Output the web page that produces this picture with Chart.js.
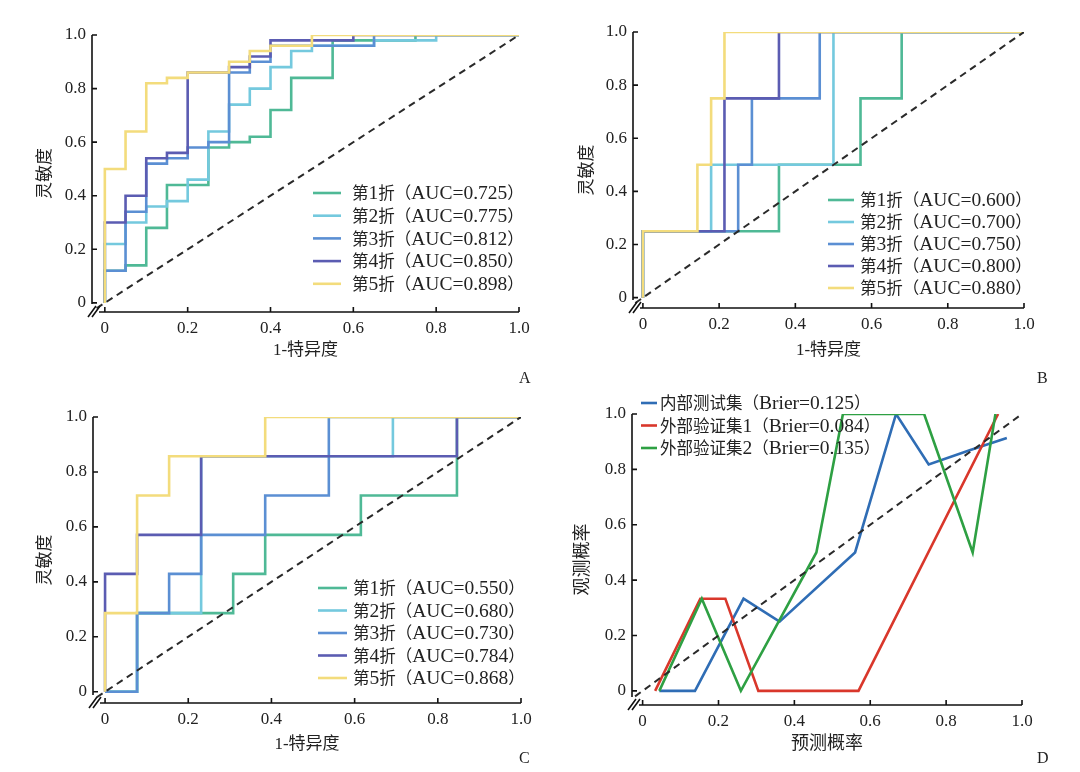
<!DOCTYPE html>
<html>
<head>
<meta charset="utf-8">
<script src="https://cdn.jsdelivr.net/npm/chart.js@4.4.1/dist/chart.umd.min.js"></script>
<style>
  body { margin: 0; background: #fff; }
  #page { position: relative; width: 1080px; height: 772px; overflow: hidden; background: #fff; }
  .panel { position: absolute; }
  .tag { position: absolute; font: 16px "Liberation Serif", serif; color: #222; }
</style>
</head>
<body>
<div id="page">
  <div class="panel" style="left:0;top:0;width:540px;height:390px"><canvas id="rocA"></canvas></div>
  <div class="panel" style="left:540px;top:0;width:540px;height:390px"><canvas id="rocB"></canvas></div>
  <div class="panel" style="left:0;top:390px;width:540px;height:382px"><canvas id="rocC"></canvas></div>
  <div class="panel" style="left:540px;top:390px;width:540px;height:382px"><canvas id="calD"></canvas></div>
  <div class="tag" style="left:519px;top:369px">A</div>
  <div class="tag" style="left:1037px;top:369px">B</div>
  <div class="tag" style="left:519px;top:749px">C</div>
  <div class="tag" style="left:1037px;top:749px">D</div>
</div>
<script>
const tickVals = [0, 0.2, 0.4, 0.6, 0.8, 1.0];
const foldNames = ["第1折", "第2折", "第3折", "第4折", "第5折"];

// A
const aucA = ["0.725", "0.775", "0.812", "0.850", "0.898"];
const fprA = [
  [0, 0, 0.05, 0.10, 0.15, 0.25, 0.30, 0.35, 0.40, 0.45, 0.55, 0.75, 1],
  [0, 0, 0.05, 0.10, 0.15, 0.20, 0.25, 0.30, 0.35, 0.40, 0.45, 0.50, 0.65, 0.80, 1],
  [0, 0, 0.05, 0.10, 0.15, 0.20, 0.25, 0.30, 0.35, 0.40, 0.65, 1],
  [0, 0, 0.05, 0.10, 0.15, 0.20, 0.30, 0.35, 0.40, 0.60, 1],
  [0, 0, 0.05, 0.10, 0.15, 0.20, 0.30, 0.35, 0.40, 0.50, 1],
];
const tprA = [
  [0, 0.12, 0.14, 0.28, 0.44, 0.58, 0.60, 0.62, 0.72, 0.84, 0.98, 1, 1],
  [0, 0.22, 0.30, 0.36, 0.38, 0.46, 0.64, 0.74, 0.80, 0.88, 0.94, 0.96, 0.98, 1, 1],
  [0, 0.12, 0.34, 0.52, 0.54, 0.58, 0.60, 0.86, 0.90, 0.96, 1, 1],
  [0, 0.30, 0.40, 0.54, 0.56, 0.86, 0.88, 0.92, 0.98, 1, 1],
  [0, 0.50, 0.64, 0.82, 0.84, 0.86, 0.90, 0.94, 0.96, 1, 1],
];

// B
const aucB = ["0.600", "0.700", "0.750", "0.800", "0.880"];
const fprB = [
  [0, 0, 0.357, 0.571, 0.679, 1],
  [0, 0, 0.179, 0.5, 1],
  [0, 0, 0.25, 0.286, 0.464, 1],
  [0, 0, 0.214, 0.357, 1],
  [0, 0, 0.143, 0.179, 0.214, 1],
];
const tprB = [
  [0, 0.25, 0.5, 0.75, 1, 1],
  [0, 0.25, 0.5, 1, 1],
  [0, 0.25, 0.5, 0.75, 1, 1],
  [0, 0.25, 0.75, 1, 1],
  [0, 0.25, 0.5, 0.75, 1, 1],
];

// C
const aucC = ["0.550", "0.680", "0.730", "0.784", "0.868"];
const fprC = [
  [0, 0.077, 0.308, 0.385, 0.615, 0.846, 0.846, 1],
  [0, 0.077, 0.231, 0.692, 1],
  [0, 0.077, 0.154, 0.231, 0.385, 0.538, 1],
  [0, 0, 0.077, 0.231, 0.846, 1],
  [0, 0, 0.077, 0.154, 0.385, 1],
];
const tprC = [
  [0, 0.286, 0.429, 0.571, 0.714, 0.857, 1, 1],
  [0, 0.286, 0.857, 1, 1],
  [0, 0.286, 0.429, 0.571, 0.714, 1, 1],
  [0, 0.429, 0.571, 0.857, 1, 1],
  [0, 0.286, 0.714, 0.857, 1, 1],
];

// D
const calNames = ["内部测试集", "外部验证集1", "外部验证集2"];
const brier = ["0.125", "0.084", "0.135"];
const predInt = [0.044, 0.138, 0.266, 0.361, 0.56, 0.668, 0.754, 0.864, 0.96];
const obsInt = [0, 0, 0.333, 0.25, 0.5, 1.0, 0.818, 0.87, 0.913];
const predExt1 = [0.033, 0.152, 0.218, 0.305, 0.569, 0.937];
const obsExt1 = [0, 0.333, 0.333, 0, 0, 1.0];
const predExt2 = [0.044, 0.156, 0.259, 0.458, 0.528, 0.742, 0.87, 0.93];
const obsExt2 = [0, 0.333, 0, 0.5, 1.0, 1.0, 0.5, 1.0];

const foldColors = ["#4fb996", "#74c9de", "#5b8fd3", "#5b5cb2", "#f3dc7c"];
const calColors = ["#2f6db5", "#d9372b", "#2ea043"];

const serif = '"Liberation Serif", "Noto Sans CJK SC", serif';

function toPoints(xs, ys) {
  return xs.map((v, i) => ({ x: v, y: ys[i] }));
}

// CJK runs a bit smaller than the Latin ones, like the original figure
function drawMixed(ctx, text, x, y) {
  const runs = text.match(/[\u3000-\u9fff\uff00-\uffef]+|[^\u3000-\u9fff\uff00-\uffef]+/g) || [];
  runs.forEach((r) => {
    const cjk = /[\u3000-\u9fff\uff00-\uffef]/.test(r);
    ctx.font = cjk ? '16.5px "Noto Sans CJK SC"' : '19.5px "Liberation Serif"';
    ctx.fillText(r, x, cjk ? y : y + 1);
    x += ctx.measureText(r).width;
  });
}

// axis lines, inward ticks, "//" break and the inner legend
const axisStyle = {
  id: "axisStyle",
  afterDraw(chart, args, opts) {
    const { ctx, chartArea: a, scales } = chart;
    const x = scales.x, y = scales.y;
    ctx.save();
    ctx.strokeStyle = "#111";
    ctx.lineWidth = 1.6;
    ctx.beginPath();
    ctx.moveTo(a.left, a.top);
    ctx.lineTo(a.left, a.bottom - 8);
    ctx.moveTo(a.left + 7, a.bottom);
    ctx.lineTo(a.right, a.bottom);
    y.ticks.forEach((t) => {
      const p = y.getPixelForValue(t.value);
      ctx.moveTo(a.left, p);
      ctx.lineTo(a.left + 5, p);
    });
    x.ticks.forEach((t) => {
      const p = x.getPixelForValue(t.value);
      ctx.moveTo(p, a.bottom);
      ctx.lineTo(p, a.bottom - 5);
    });
    for (const d of [0, 4]) {
      ctx.moveTo(a.left - 4 + d, a.bottom + 5);
      ctx.lineTo(a.left + 4 + d, a.bottom - 6);
    }
    ctx.stroke();

    // legend
    const lg = opts.legend;
    ctx.textBaseline = "middle";
    ctx.fillStyle = "#222";
    let row = 0;
    chart.data.datasets.forEach((ds) => {
      if (!ds.label) return;
      const yy = lg.y + row * lg.gap;
      ctx.strokeStyle = ds.borderColor;
      ctx.lineWidth = 2.6;
      ctx.beginPath();
      ctx.moveTo(lg.x, yy);
      ctx.lineTo(lg.x + lg.len, yy);
      ctx.stroke();
      drawMixed(ctx, ds.label, lg.x + lg.len + lg.space, yy);
      row++;
    });
    ctx.restore();
  },
};

function diagonal() {
  return {
    data: [{ x: -0.02, y: -0.02 }, { x: 1, y: 1 }],
    borderColor: "#2a2a2a",
    borderWidth: 2,
    borderDash: [7, 5],
    pointRadius: 0,
    order: 0,
  };
}

function scaleOpts(min, title, size, titleSize) {
  return {
    type: "linear",
    min: min,
    max: 1,
    afterBuildTicks: (s) => { s.ticks = tickVals.map((v) => ({ value: v })); },
    afterFit: (s) => {
      if (s.isHorizontal()) s.height = size; else s.width = size;
    },
    grid: { display: false, drawTicks: false },
    border: { display: false },
    ticks: {
      padding: 6,
      color: "#222",
      font: { family: "Liberation Serif", size: 17 },
      callback: (v) => (v === 0 ? "0" : v.toFixed(1)),
    },
    title: {
      display: true,
      text: title,
      color: "#222",
      padding: { top: 4, bottom: 4 },
      font: { family: serif, size: titleSize },
    },
  };
}

function makeChart(id, datasets, lay, xTitle, yTitle) {
  return new Chart(document.getElementById(id), {
    type: "line",
    data: { datasets: datasets },
    options: {
      responsive: true,
      maintainAspectRatio: false,
      animation: false,
      events: [],
      layout: { padding: lay.pad },
      elements: { point: { radius: 0 }, line: { tension: 0 } },
      scales: {
        x: scaleOpts(lay.xMin, xTitle, lay.xH, lay.titleSize),
        y: scaleOpts(lay.yMin, yTitle, lay.yW, lay.titleSize),
      },
      plugins: {
        legend: { display: false },
        tooltip: { enabled: false },
        axisStyle: { legend: lay.legend },
      },
    },
    plugins: [axisStyle],
  });
}

function rocSets(fpr, tpr, auc) {
  const sets = fpr.map((xs, i) => ({
    label: foldNames[i] + "（AUC=" + auc[i] + "）",
    data: toPoints(xs, tpr[i]),
    borderColor: foldColors[i],
    borderWidth: 2.6,
    stepped: "before",
    pointRadius: 0,
    order: 5 - i,
  }));
  sets.push(diagonal());
  return sets;
}

makeChart("rocA", rocSets(fprA, tprA, aucA), {
  pad: { left: 31, right: 21, top: 35, bottom: 25 },
  yW: 61, xH: 53, xMin: -0.031, yMin: -0.034, titleSize: 17,
  legend: { x: 313, y: 193, gap: 22.7, len: 28, space: 11 },
}, "1-特异度", "灵敏度");

makeChart("rocB", rocSets(fprB, tprB, aucB), {
  pad: { left: 33, right: 56, top: 32, bottom: 25 },
  yW: 60, xH: 57, xMin: -0.026, yMin: -0.039, titleSize: 17,
  legend: { x: 288, y: 200, gap: 22, len: 26, space: 6 },
}, "1-特异度", "灵敏度");

makeChart("rocC", rocSets(fprC, tprC, aucC), {
  pad: { left: 31, right: 19, top: 27, bottom: 13 },
  yW: 62, xH: 56, xMin: -0.029, yMin: -0.041, titleSize: 17,
  legend: { x: 318, y: 198, gap: 22.5, len: 29, space: 6 },
}, "1-特异度", "灵敏度");

const predSets = [predInt, predExt1, predExt2];
const obsSets = [obsInt, obsExt1, obsExt2];
const calDatasets = predSets.map((xs, i) => ({
  label: calNames[i] + "（Brier=" + brier[i] + "）",
  data: toPoints(xs, obsSets[i]),
  borderColor: calColors[i],
  borderWidth: 2.6,
  pointRadius: 0,
  order: 3 - i,
}));
calDatasets.push(diagonal());

makeChart("calD", calDatasets, {
  pad: { left: 28, right: 58, top: 24, bottom: 13 },
  yW: 64, xH: 54, xMin: -0.028, yMin: -0.051, titleSize: 18,
  legend: { x: 101, y: 13, gap: 22.5, len: 16, space: 3 },
}, "预测概率", "观测概率");
</script>
</body>
</html>
